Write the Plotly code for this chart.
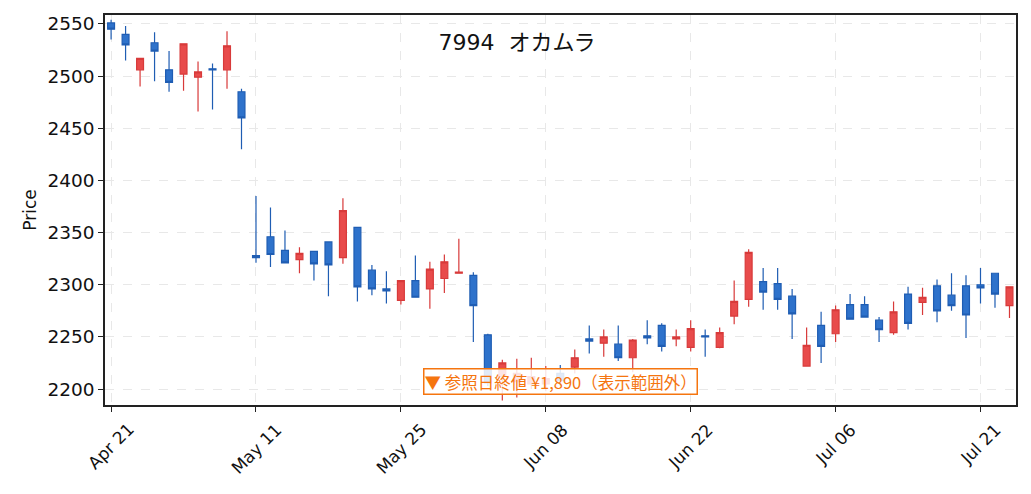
import pandas as pd
import plotly.graph_objects as go

# trading days (2022), one candle per day
dates = [
    "2022-04-21", "2022-04-22", "2022-04-25", "2022-04-26", "2022-04-27", "2022-04-28",
    "2022-05-02", "2022-05-06", "2022-05-09", "2022-05-10", "2022-05-11", "2022-05-12",
    "2022-05-13", "2022-05-16", "2022-05-17", "2022-05-18", "2022-05-19", "2022-05-20",
    "2022-05-23", "2022-05-24", "2022-05-25", "2022-05-26", "2022-05-27", "2022-05-30",
    "2022-05-31", "2022-06-01", "2022-06-02", "2022-06-03", "2022-06-06", "2022-06-07",
    "2022-06-08", "2022-06-09", "2022-06-10", "2022-06-13", "2022-06-14", "2022-06-15",
    "2022-06-16", "2022-06-17", "2022-06-20", "2022-06-21", "2022-06-22", "2022-06-23",
    "2022-06-24", "2022-06-27", "2022-06-28", "2022-06-29", "2022-06-30", "2022-07-01",
    "2022-07-04", "2022-07-05", "2022-07-06", "2022-07-07", "2022-07-08", "2022-07-11",
    "2022-07-12", "2022-07-13", "2022-07-14", "2022-07-15", "2022-07-19", "2022-07-20",
    "2022-07-21", "2022-07-22", "2022-07-25",
]
open_ = [
    2551, 2540, 2506, 2532, 2506, 2502, 2499, 2507, 2506, 2485,
    2328, 2346, 2333, 2324, 2332, 2341, 2326, 2355, 2314, 2296,
    2285, 2304, 2296, 2306, 2311, 2309, 2252, 2212, 2207, 2205,
    2205, 2215, 2221, 2248, 2244, 2243, 2230, 2251, 2261, 2248,
    2240, 2251, 2240, 2270, 2286, 2303, 2301, 2289, 2222, 2261,
    2253, 2281, 2281, 2266, 2254, 2291, 2283, 2299, 2290, 2299,
    2300, 2311, 2280,
]
high = [
    2554, 2548, 2517, 2542, 2524, 2531, 2514, 2512, 2543, 2488,
    2385, 2374, 2352, 2336, 2332, 2341, 2383, 2355, 2319, 2313,
    2304, 2328, 2322, 2329, 2344, 2312, 2253, 2228, 2229, 2230,
    2222, 2223, 2238, 2261, 2257, 2261, 2248, 2266, 2263, 2257,
    2266, 2257, 2259, 2304, 2334, 2316, 2316, 2296, 2259, 2274,
    2280, 2291, 2289, 2269, 2284, 2298, 2297, 2305, 2311, 2309,
    2316, 2311, 2298,
]
low = [
    2535, 2515, 2490, 2495, 2485, 2486, 2466, 2468, 2488, 2430,
    2321, 2317, 2321, 2311, 2304, 2289, 2320, 2284, 2290, 2282,
    2281, 2288, 2277, 2292, 2311, 2245, 2203, 2189, 2192, 2200,
    2198, 2203, 2215, 2234, 2231, 2227, 2216, 2243, 2236, 2241,
    2236, 2231, 2239, 2262, 2279, 2276, 2276, 2248, 2222, 2225,
    2245, 2267, 2269, 2245, 2252, 2257, 2271, 2264, 2275, 2249,
    2282, 2278, 2268,
]
close = [
    2545, 2530, 2517, 2524, 2494, 2531, 2504, 2506, 2529, 2460,
    2326, 2329, 2321, 2330, 2320, 2319, 2371, 2298, 2296, 2294,
    2304, 2288, 2315, 2322, 2312, 2280, 2206, 2225, 2215, 2212,
    2210, 2208, 2230, 2246, 2250, 2230, 2247, 2249, 2241, 2250,
    2258, 2250, 2254, 2284, 2331, 2293, 2286, 2272, 2242, 2241,
    2276, 2267, 2269, 2257, 2274, 2263, 2288, 2275, 2280, 2271,
    2297, 2291, 2298,
]
y_ticks = [2200, 2250, 2300, 2350, 2400, 2450, 2500, 2550]

title = "7994\u00a0\u00a0オカムラ"
note = "▼ 参照日終値 ¥1,890（表示範囲外）"

FONT = "DejaVu Sans, Noto Sans CJK JP, sans-serif"
CJK = "Noto Sans CJK JP, DejaVu Sans, sans-serif"
GRID = "#e8e8e8"
ORANGE = "#f5750f"

# page body adds an 8px offset, so the figure is a bit smaller than the window
W, H = 1023, 486

tick_idx = list(range(0, len(dates), 10))
tick_vals = [dates[i] for i in tick_idx]
tick_text = [pd.Timestamp(d).strftime("%b %d") for d in tick_vals]

fig = go.Figure()
fig.add_trace(go.Candlestick(
    x=dates, open=open_, high=high, low=low, close=close,
    increasing=dict(line=dict(color="#d83a3a", width=1.2), fillcolor="#e84b4b"),
    decreasing=dict(line=dict(color="#1f5db3", width=1.2), fillcolor="#2e72cb"),
    whiskerwidth=0, showlegend=False, hoverinfo="skip",
))

# rotated date labels centred under their ticks (matplotlib style)
annotations = [
    dict(text=t, x=v, y=-0.03, xref="x", yref="paper", xanchor="center",
         yanchor="top", textangle=-45, showarrow=False,
         font=dict(size=17, color="#111111", family=FONT))
    for v, t in zip(tick_vals, tick_text)
]
annotations.append(dict(
    text=note, xref="paper", yref="paper", x=0.5, y=0.026,
    xanchor="center", yanchor="bottom", showarrow=False,
    font=dict(size=16.5, color=ORANGE, family=CJK),
    bgcolor="rgba(255,255,255,0.85)", bordercolor=ORANGE,
    borderwidth=1.5, borderpad=0,
))

fig.update_layout(
    width=W, height=H,
    margin=dict(l=97, r=15, t=7, b=89, autoexpand=False),
    paper_bgcolor="white", plot_bgcolor="white",
    font=dict(family=FONT, color="#111111", size=18),
    boxgap=0.32,
    title=dict(text=title, x=509 / W, xref="container", xanchor="center",
               y=1 - 34 / H, yref="container", yanchor="middle",
               font=dict(size=22, color="#111111", family=FONT)),
    xaxis=dict(
        type="category", range=[-0.42, 62.45], rangeslider=dict(visible=False),
        tickmode="array", tickvals=tick_vals, showticklabels=False,
        ticks="outside", ticklen=5, tickcolor="#222",
        showgrid=True, gridcolor=GRID, griddash="dash", gridwidth=1.2,
        showline=True, linecolor="#222", linewidth=1.6, mirror=True, zeroline=False,
    ),
    yaxis=dict(
        range=[2184.7, 2558.6], tickvals=y_ticks, tickfont=dict(size=18.5),
        ticks="outside", ticklen=5, tickcolor="#222",
        showgrid=True, gridcolor=GRID, griddash="dash", gridwidth=1.2,
        showline=True, linecolor="#222", linewidth=1.6, mirror=True, zeroline=False,
        title=dict(text="Price", font=dict(size=17), standoff=6),
    ),
    annotations=annotations,
)

fig.write_html("out.html")
